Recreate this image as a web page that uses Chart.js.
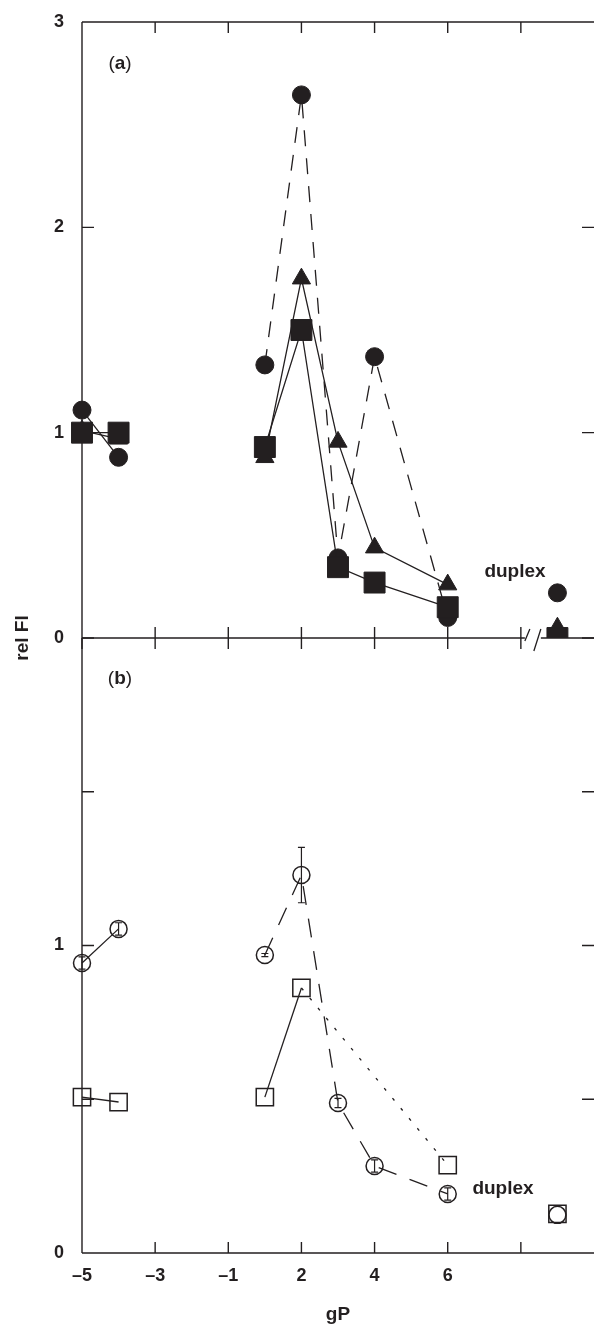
<!DOCTYPE html>
<html><head><meta charset="utf-8">
<script src="https://cdn.jsdelivr.net/npm/chart.js@4.4.1/dist/chart.umd.min.js"></script>
<style>
html,body{margin:0;padding:0;background:#fff;}
body{width:594px;height:1324px;position:relative;overflow:hidden;font-family:'Liberation Sans',Arial,Helvetica,sans-serif;color:#231f20;}
canvas{position:absolute;left:0;}
#ca{top:0}
#cb{top:616px}
.lbl{position:absolute;font-weight:bold;font-size:19px;line-height:1;white-space:nowrap;}
</style></head><body>
<canvas id="ca" width="594" height="660"></canvas>
<canvas id="cb" width="594" height="708"></canvas>
<div class="lbl" style="left:21px;top:638px;transform:translate(-50%,-50%) rotate(-90deg);">rel Fl</div>
<div class="lbl" style="left:120px;top:62px;transform:translate(-50%,-50%);font-weight:normal;">(<b>a</b>)</div>
<div class="lbl" style="left:120px;top:677px;transform:translate(-50%,-50%);font-weight:normal;">(<b>b</b>)</div>
<div class="lbl" style="left:515px;top:570px;transform:translate(-50%,-50%);">duplex</div>
<div class="lbl" style="left:503px;top:1187px;transform:translate(-50%,-50%);">duplex</div>
<script>
// ---- data ----
const gPCategories = ['-5', '-4', '1', '2', '3', '4', '6', 'duplex'];
const panelA_filledSquare   = [1.00, 1.00, 0.93, 1.50, 0.345, 0.27, 0.15, 0.00];
const panelA_filledTriangle = [1.01, 0.97, 0.88, 1.75, 0.955, 0.44, 0.26, 0.05];
const panelA_filledCircle   = [1.11, 0.88, 1.33, 2.645, 0.39, 1.37, 0.10, 0.22];
const panelB_openCircle     = [0.943, 1.054, 0.969, 1.229, 0.488, 0.283, 0.192, 0.124];
const panelB_openCircleErr  = [0.02, 0.02, 0.005, 0.09, 0.015, 0.02, 0.02, 0];
const panelB_openSquare     = [0.507, 0.491, 0.507, 0.862, null, null, 0.286, 0.127];
const xTickValues = ['-5', '-3', '-1', '2', '4', '6', '8'];
const xTickLabels = ['\u20135', '\u20133', '\u20131', '2', '4', '6', ''];
const yTicksA = [0, 1, 2, 3];
const yLabelsA = ['0', '1', '2', '3'];
const yTicksB = [0, 0.5, 1, 1.5, 2];
const yLabelsB = ['0', '', '1', '', ''];

const INK = '#231f20';
Chart.defaults.font.family = "'Liberation Sans', Arial, Helvetica, sans-serif";
Chart.defaults.color = INK;

// broken gP axis: zero is skipped, duplex sits after the break
function axisPos(c) {
  if (c === 'duplex') return 13;
  const n = +c;
  return n < 0 ? n + 5 : n + 4;
}
function pts(arr) { return gPCategories.map((c, i) => ({x: axisPos(c), y: arr[i]})); }

function segStyle(rightDash, laterDash, laterFrom) {
  return {
    borderColor: c => (c.p0DataIndex === 1 || c.p1DataIndex === 7) ? 'rgba(0,0,0,0)' : undefined,
    borderDash: c => {
      if (c.p0DataIndex < 2) return [];
      if (laterDash && c.p0DataIndex >= laterFrom) return laterDash;
      return rightDash;
    }
  };
}

function ds(arr, style, radius, filled, seg, extra) {
  return Object.assign({
    data: pts(arr),
    borderColor: INK,
    borderWidth: 1.3,
    pointStyle: style,
    pointRadius: radius,
    pointHoverRadius: radius,
    pointBackgroundColor: filled ? INK : 'rgba(0,0,0,0)',
    pointBorderColor: INK,
    pointBorderWidth: filled ? 1 : 1.5,
    spanGaps: true,
    tension: 0,
    fill: false,
    segment: seg
  }, extra || {});
}

const framePlugin = {
  id: 'frame',
  beforeDatasetsDraw(chart, args, o) {
    const {ctx, chartArea: {left, right, top, bottom}, scales: {x, y}} = chart;
    ctx.save();
    ctx.strokeStyle = INK; ctx.lineWidth = 1.4; ctx.lineCap = 'butt';
    ctx.beginPath();
    ctx.moveTo(left, top); ctx.lineTo(left, bottom);
    if (o.topLine) { ctx.moveTo(left, top); ctx.lineTo(right, top); }
    ctx.moveTo(left, bottom); ctx.lineTo(right, bottom);
    o.yTicks.forEach(v => {
      const py = y.getPixelForValue(v);
      ctx.moveTo(left, py); ctx.lineTo(left + 12, py);
      ctx.moveTo(right, py); ctx.lineTo(right - 12, py);
    });
    xTickValues.forEach(c => {
      const px = x.getPixelForValue(axisPos(c));
      if (o.topTicks) { ctx.moveTo(px, top); ctx.lineTo(px, top + 11); }
      ctx.moveTo(px, bottom); ctx.lineTo(px, bottom - 11);
      if (o.belowTicks) { ctx.moveTo(px, bottom); ctx.lineTo(px, bottom + 11); }
    });
    ctx.stroke();
    if (o.brk) {
      const bx = x.getPixelForValue(12);
      ctx.fillStyle = '#fff';
      ctx.fillRect(bx + 4, bottom - 2, 16, 4);
      ctx.beginPath();
      ctx.lineWidth = 1.3;
      ctx.moveTo(bx + 4, bottom + 3); ctx.lineTo(bx + 9, bottom - 9);
      ctx.moveTo(bx + 13, bottom + 13); ctx.lineTo(bx + 20, bottom - 9);
      ctx.stroke();
    }
    ctx.restore();
  }
};

const errorBarPlugin = {
  id: 'errbars',
  afterDatasetsDraw(chart, args, o) {
    if (!o || !o.values) return;
    const {ctx, scales: {x, y}} = chart;
    ctx.save(); ctx.strokeStyle = INK; ctx.lineWidth = 1.2;
    ctx.beginPath();
    gPCategories.forEach((c, i) => {
      const e = o.errors[i], v = o.values[i];
      if (!e || v == null) return;
      const px = x.getPixelForValue(axisPos(c));
      const t = y.getPixelForValue(v + e), b = y.getPixelForValue(v - e);
      ctx.moveTo(px, t); ctx.lineTo(px, b);
      ctx.moveTo(px - 3.5, t); ctx.lineTo(px + 3.5, t);
      ctx.moveTo(px - 3.5, b); ctx.lineTo(px + 3.5, b);
    });
    ctx.stroke(); ctx.restore();
  }
};

const hiddenTickGrid = (len) => ({display: true, drawOnChartArea: false, drawTicks: true,
                                  tickLength: len, color: 'rgba(0,0,0,0)', lineWidth: 0});

function options(yMax, yTicks, yLabels, showX, frameOpts, errOpts) {
  return {
    responsive: false, animation: false, devicePixelRatio: 1,
    layout: {autoPadding: false, padding: {top: 22, bottom: showX ? 0 : 22, left: 0, right: 0}},
    plugins: {legend: {display: false}, tooltip: {enabled: false}, frame: frameOpts, errbars: errOpts || {}},
    scales: {
      x: {
        type: 'linear', min: 0, max: 14, display: showX,
        grid: hiddenTickGrid(12), border: {display: false},
        afterBuildTicks: s => { s.ticks = xTickValues.map(c => ({value: axisPos(c)})); },
        afterFit: s => { s.height = showX ? 71 : 0; },
        ticks: {autoSkip: false, maxRotation: 0, minRotation: 0, padding: 0, color: INK,
                font: {size: 18, weight: 'bold'}, callback: (v, i) => xTickLabels[i]},
        title: {display: true, text: 'gP', color: INK, font: {size: 19, weight: 'bold', lineHeight: 1},
                padding: {top: 0, bottom: 0}}
      },
      y: {
        type: 'linear', min: 0, max: yMax,
        grid: hiddenTickGrid(18), border: {display: false},
        afterBuildTicks: s => { s.ticks = yTicks.map(v => ({value: v})); },
        afterFit: s => { s.width = 82; },
        ticks: {padding: 0, color: INK, font: {size: 18, weight: 'bold'}, callback: (v, i) => yLabels[i]}
      }
    }
  };
}

const clipA = {left: false, top: false, right: false, bottom: 0};

new Chart(document.getElementById('ca'), {
  type: 'line',
  data: {datasets: [
    ds(panelA_filledSquare, 'rect', 14.8, true, segStyle([]), {clip: clipA}),
    ds(panelA_filledTriangle, 'triangle', 10.5, true, segStyle([]), {clip: clipA}),
    ds(panelA_filledCircle, 'circle', 9, true, segStyle([16, 12]), {clip: clipA})
  ]},
  options: options(3, yTicksA, yLabelsA, false,
    {yTicks: yTicksA, topLine: true, topTicks: true, belowTicks: true, brk: true}),
  plugins: [framePlugin, errorBarPlugin]
});

new Chart(document.getElementById('cb'), {
  type: 'line',
  data: {datasets: [
    ds(panelB_openCircle, 'circle', 8.5, false, segStyle([19, 14]), {clip: false}),
    ds(panelB_openSquare, 'rect', 12.2, false, segStyle([], [3, 10], 3), {clip: false})
  ]},
  options: options(2, yTicksB, yLabelsB, true,
    {yTicks: yTicksB, topLine: false, topTicks: false, belowTicks: false, brk: false},
    {values: panelB_openCircle, errors: panelB_openCircleErr}),
  plugins: [framePlugin, errorBarPlugin]
});
</script>
</body></html>
